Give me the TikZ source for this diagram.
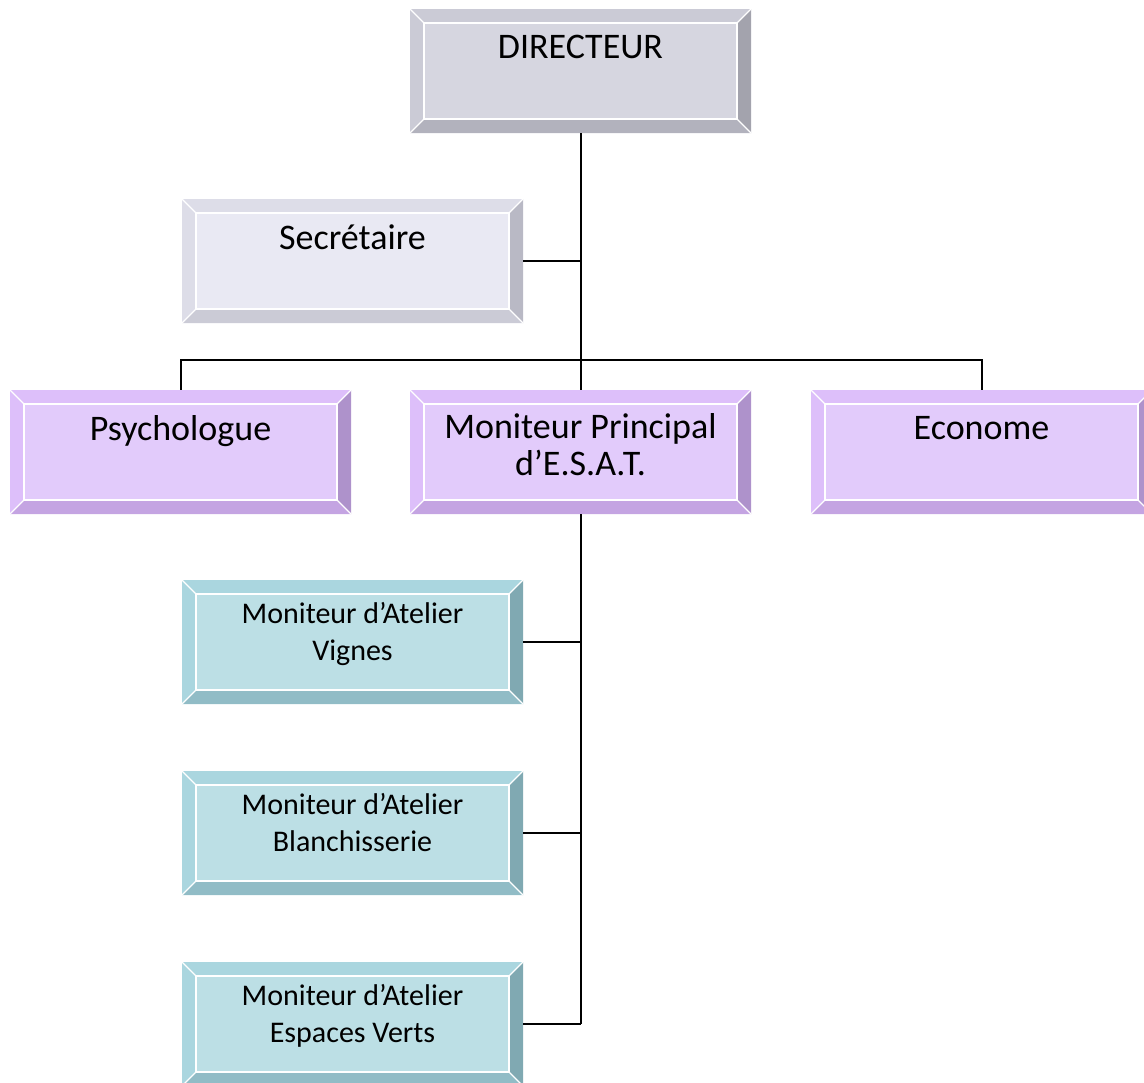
\documentclass[tikz,border=0pt]{standalone}
\usepackage{fontspec}
\setmainfont{Carlito}
\usetikzlibrary{calc}
\definecolor{dirface}{RGB}{214,214,224}
\definecolor{dirtop}{RGB}{203,203,214}
\definecolor{dirright}{RGB}{163,163,173}
\definecolor{dirbottom}{RGB}{178,178,189}
\definecolor{secface}{RGB}{233,233,243}
\definecolor{sectop}{RGB}{221,221,232}
\definecolor{secright}{RGB}{185,185,197}
\definecolor{secbottom}{RGB}{203,203,214}
\definecolor{lilface}{RGB}{226,203,251}
\definecolor{liltop}{RGB}{221,191,250}
\definecolor{lilright}{RGB}{174,146,203}
\definecolor{lilbottom}{RGB}{196,164,226}
\definecolor{tealface}{RGB}{188,223,229}
\definecolor{tealtop}{RGB}{170,214,223}
\definecolor{tealright}{RGB}{128,169,178}
\definecolor{tealbottom}{RGB}{145,188,198}
\tikzset{
  bevelbox/.style n args={4}{
    fill=#4,
    minimum width=170.5pt,
    minimum height=62pt,
    inner sep=0pt,
    align=center,
    path picture={
      \coordinate (nw) at (path picture bounding box.north west);
      \coordinate (ne) at (path picture bounding box.north east);
      \coordinate (sw) at (path picture bounding box.south west);
      \coordinate (se) at (path picture bounding box.south east);
      \coordinate (inw) at ($(nw)+(7pt,-7pt)$);
      \coordinate (ine) at ($(ne)+(-7pt,-7pt)$);
      \coordinate (isw) at ($(sw)+(7pt,7pt)$);
      \coordinate (ise) at ($(se)+(-7pt,7pt)$);
      \fill[#1] (nw) -- (ne) -- (ine) -- (inw) -- cycle;
      \fill[#1] (nw) -- (inw) -- (isw) -- (sw) -- cycle;
      \fill[#2] (ne) -- (se) -- (ise) -- (ine) -- cycle;
      \fill[#3] (sw) -- (se) -- (ise) -- (isw) -- cycle;
      \draw[white, line width=0.6pt] (inw) rectangle (ise);
      \draw[white, line width=0.6pt] (nw) -- (inw) (ne) -- (ine)
        (sw) -- (isw) (se) -- (ise);
    }
  },
  lift/.style={execute at end node={\rule[-#1]{0pt}{0pt}}},
  dirbox/.style={bevelbox={dirtop}{dirright}{dirbottom}{dirface},
    font=\fontsize{18}{18.5}\selectfont},
  secbox/.style={bevelbox={sectop}{secright}{secbottom}{secface},
    font=\fontsize{18}{18.5}\selectfont},
  staffbox/.style={bevelbox={liltop}{lilright}{lilbottom}{lilface},
    font=\fontsize{18}{18.5}\selectfont},
  workbox/.style={bevelbox={tealtop}{tealright}{tealbottom}{tealface},
    font=\fontsize{15}{18.5}\selectfont, lift=11pt},
  link/.style={line width=1pt, draw=black}
}
\begin{document}
\begin{tikzpicture}[x=0.5pt, y=-0.5pt]
\useasboundingbox (0,0) rectangle (1144,1082);
\node[dirbox] (dir) at (580.5,71) {DIRECTEUR\\\strut};
\node[secbox] (sec) at (352.5,261) {Secrétaire\\\strut};
\node[staffbox] (psy) at (180.5,452) {Psychologue\\\strut};
\node[staffbox, lift=8pt] (mp) at (580.5,452) {Moniteur Principal\\d’E.S.A.T.};
\node[staffbox] (eco) at (981.5,452) {Econome\\\strut};
\node[workbox] (vig) at (352.5,642) {Moniteur d’Atelier\\Vignes};
\node[workbox] (bla) at (352.5,833) {Moniteur d’Atelier\\Blanchisserie};
\node[workbox] (esp) at (352.5,1024) {Moniteur d’Atelier\\Espaces Verts};
\coordinate (bar) at (580.5,360);
% liaisons
\draw[link] (dir.south) -- (mp.north);
\draw[link] (sec.east) -- (sec.east -| dir.south);
\draw[link] (psy.north) |- (bar) -| (eco.north);
\draw[link] (mp.south) -- (esp.east -| mp.south);
\draw[link] (vig.east) -- (vig.east -| mp.south);
\draw[link] (bla.east) -- (bla.east -| mp.south);
\draw[link] (esp.east) -- (esp.east -| mp.south);
\end{tikzpicture}
\end{document}
